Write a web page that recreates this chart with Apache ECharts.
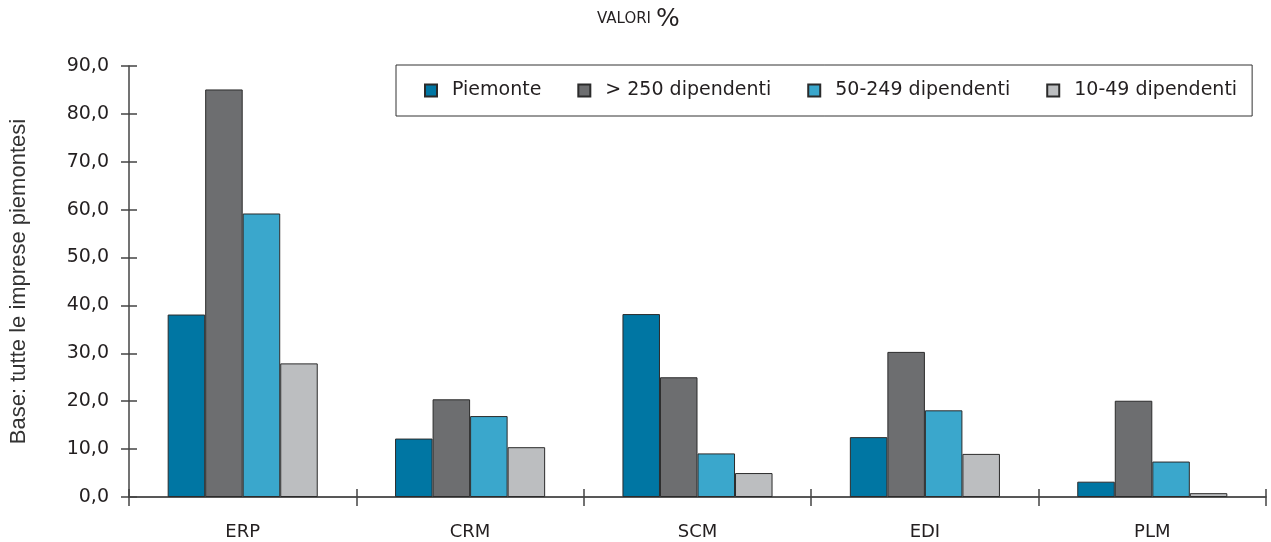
<!DOCTYPE html>
<html>
<head>
<meta charset="utf-8">
<script src="https://cdn.jsdelivr.net/npm/echarts@6/dist/echarts.min.js"></script>
<style>
html,body{margin:0;padding:0;background:#fff;}
#chart{width:1271px;height:542px;}
</style>
</head>
<body>
<div id="chart"></div>
<script>
const categories = ['ERP', 'CRM', 'SCM', 'EDI', 'PLM'];
const seriesNames = ['Piemonte', '> 250 dipendenti', '50-249 dipendenti', '10-49 dipendenti'];
const piemonte = [38.1, 12.2, 38.2, 12.5, 3.2];
const oltre250 = [85.1, 20.4, 25.0, 30.3, 20.1];
const da50a249 = [59.2, 16.9, 9.1, 18.1, 7.4];
const da10a49 = [27.9, 10.4, 5.0, 9.0, 0.8];
const yTicks = [0, 10, 20, 30, 40, 50, 60, 70, 80, 90];
const colors = ['#0076a3', '#6d6e70', '#3aa7cc', '#bcbec0'];

const chart = echarts.init(document.getElementById('chart'));
const axisColor = '#444';
const textColor = '#231f20';
const numFont = 'DejaVu Sans';
const values = [piemonte, oltre250, da50a249, da10a49];

const yBase = {
  type: 'value',
  min: yTicks[0],
  max: yTicks[yTicks.length - 1],
  interval: yTicks[1] - yTicks[0],
  splitLine: { show: false },
  axisLine: { show: true, lineStyle: { color: axisColor, width: 1.5 } },
  axisTick: { show: true, length: 8, lineStyle: { color: axisColor, width: 1.5 } }
};

const option = {
  animation: false,
  backgroundColor: '#fff',
  title: {
    text: '{a|VALORI} {b|%}',
    left: 592,
    top: 2,
    textStyle: {
      fontWeight: 'normal',
      rich: {
        a: { fontFamily: numFont, fontSize: 15, fontWeight: 'normal', color: textColor },
        b: { fontFamily: numFont, fontSize: 25, fontWeight: 'normal', color: textColor }
      }
    }
  },
  legend: {
    left: 396,
    top: 65,
    width: 900,
    orient: 'horizontal',
    padding: [16, 15, 16, 28],
    borderColor: '#333',
    borderWidth: 1,
    itemWidth: 12,
    itemHeight: 12,
    itemGap: 36,
    icon: 'rect',
    textStyle: { fontFamily: numFont, fontSize: 19, color: textColor, padding: [0, 0, 0, 10] },
    data: seriesNames
  },
  grid: { left: 128, right: 5, top: 66, bottom: 45, containLabel: false },
  xAxis: [
    {
      type: 'category',
      data: categories,
      boundaryGap: true,
      axisLine: { show: true, lineStyle: { color: '#222', width: 1.5 } },
      axisTick: { show: true, length: 9, lineStyle: { color: axisColor, width: 1.5 } },
      axisLabel: { fontFamily: numFont, fontSize: 18, color: textColor, margin: 26 }
    },
    {
      type: 'category',
      data: categories,
      position: 'bottom',
      boundaryGap: true,
      axisLine: { show: false },
      axisTick: { show: true, inside: true, length: 8, lineStyle: { color: axisColor, width: 1.5 } },
      axisLabel: { show: false }
    }
  ],
  yAxis: [
    Object.assign({}, yBase, {
      name: 'Base: tutte le imprese piemontesi',
      nameLocation: 'middle',
      nameRotate: 90,
      nameGap: 99,
      nameTextStyle: { fontFamily: 'Liberation Sans', fontSize: 22, color: '#333' },
      axisLabel: {
        fontFamily: numFont, fontSize: 19, color: textColor, margin: 20,
        formatter: v => v.toFixed(1).replace('.', ',')
      }
    }),
    Object.assign({}, yBase, {
      position: 'left',
      axisLine: { show: false },
      axisTick: { show: true, inside: true, length: 8, lineStyle: { color: axisColor, width: 1.5 } },
      axisLabel: { show: false }
    })
  ],
  series: seriesNames.map((name, i) => ({
    name: name,
    type: 'bar',
    xAxisIndex: 0,
    yAxisIndex: 0,
    data: values[i],
    barGap: '0%',
    barCategoryGap: '34%',
    itemStyle: { color: colors[i], borderColor: '#2b2b2b', borderWidth: 1 }
  }))
};
chart.setOption(option);
</script>
</body>
</html>
